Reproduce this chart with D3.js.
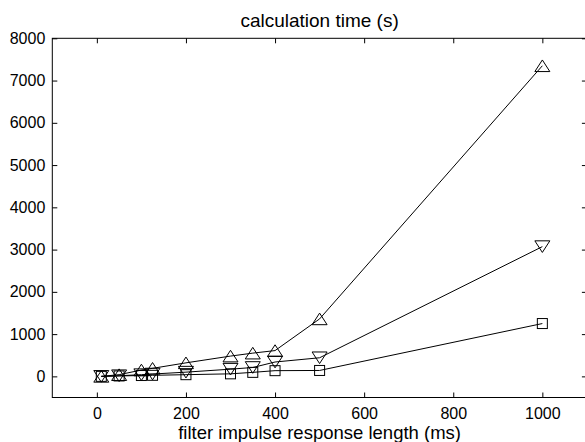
<!DOCTYPE html>
<html><head><meta charset="utf-8">
<script src="https://cdn.jsdelivr.net/npm/d3@7"></script>
<style>body{margin:0;background:#fff}svg{display:block}text{font-family:"Liberation Sans",Arial,sans-serif;fill:#000}</style>
</head><body>
<svg id="c" width="585" height="442"></svg>
<script>
const lengths = [10, 50, 100, 125, 200, 300, 350, 400, 500, 1000];
const timeUp = [0, 40, 150, 190, 320, 480, 550, 610, 1360, 7350];
const timeDown = [0, 15, 40, 55, 100, 170, 210, 340, 440, 3070];
const timeSquare = [0, 10, 20, 25, 40, 60, 95, 135, 140, 1250];
const xTicks = [0, 200, 400, 600, 800, 1000];
const yTicks = [0, 1000, 2000, 3000, 4000, 5000, 6000, 7000, 8000];
const title = "calculation time (s)";
const xLabel = "filter impulse response length (ms)";

const svg = d3.select("#c");
const L = 52.3, R = 586.9, T = 38.3, B = 397.5;
const x = d3.scaleLinear().domain([-100, 1100]).range([L, R]);
const y = d3.scaleLinear().domain([-500, 8000]).range([B, T]);
const tk = 5;

const g = svg.append("g");
g.append("rect").attr("x", L).attr("y", T).attr("width", R - L).attr("height", B - T)
  .attr("fill", "none").attr("stroke", "#000").attr("stroke-width", 1);

const xb = g.append("g").attr("transform", `translate(0,${B})`)
  .call(d3.axisBottom(x).tickValues(xTicks).tickSize(-tk).tickPadding(12).tickFormat(d3.format("d")));
const xt = g.append("g").attr("transform", `translate(0,${T})`)
  .call(d3.axisTop(x).tickValues(xTicks).tickSize(-tk).tickFormat(""));
const yl = g.append("g").attr("transform", `translate(${L},0)`)
  .call(d3.axisLeft(y).tickValues(yTicks).tickSize(-tk).tickPadding(7).tickFormat(d3.format("d")));
const yr = g.append("g").attr("transform", `translate(${R},0)`)
  .call(d3.axisRight(y).tickValues(yTicks).tickSize(-tk).tickFormat(""));
[xb, xt, yl, yr].forEach(a => {
  a.select(".domain").remove();
  a.selectAll("line").attr("stroke", "#000");
  a.selectAll("text").attr("font-size", 16).attr("font-family", "Liberation Sans, Arial, sans-serif").attr("fill", "#000");
});
xb.selectAll("text").attr("dy", null).attr("y", 21.5);

svg.append("text").attr("x", (L + R) / 2).attr("y", 27).attr("text-anchor", "middle")
  .attr("font-size", 19).text(title);
svg.append("text").attr("x", (L + R) / 2).attr("y", 439).attr("text-anchor", "middle")
  .attr("font-size", 18.5).text(xLabel);

const line = d3.line().x(d => x(d[0])).y(d => y(d[1]));
const series = [
  {v: timeUp, m: "up"},
  {v: timeDown, m: "down"},
  {v: timeSquare, m: "sq"}
];
series.forEach(s => {
  const pts = lengths.map((l, i) => [l, s.v[i]]);
  g.append("path").attr("d", line(pts)).attr("fill", "none").attr("stroke", "#000").attr("stroke-width", 1);
  const mk = g.append("g");
  pts.forEach(p => {
    const cx = x(p[0]), cy = y(p[1]);
    if (s.m === "sq") {
      mk.append("rect").attr("x", cx - 5).attr("y", cy - 5).attr("width", 10).attr("height", 10)
        .attr("fill", "none").attr("stroke", "#000");
    } else {
      const w = 7.5, h = 5.8, sg = s.m === "up" ? 1 : -1;
      mk.append("path").attr("d", `M${cx},${cy - sg * h}L${cx + w},${cy + sg * h}L${cx - w},${cy + sg * h}Z`)
        .attr("fill", "none").attr("stroke", "#000");
    }
  });
});
</script>
</body></html>
